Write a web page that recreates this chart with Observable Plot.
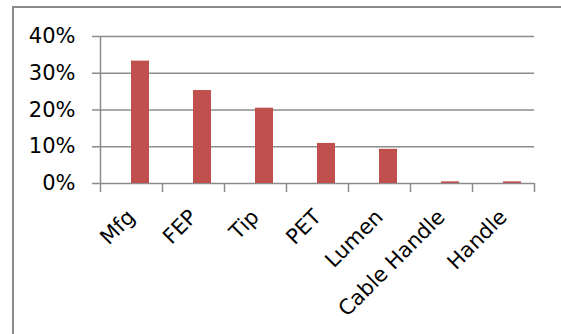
<!DOCTYPE html>
<html>
<head>
<meta charset="utf-8">
<script src="https://cdn.jsdelivr.net/npm/d3@7"></script>
<script src="https://cdn.jsdelivr.net/npm/@observablehq/plot@0.6"></script>
<style>
  html, body { margin: 0; padding: 0; background: #fff; overflow: hidden; }
  #chart { position: relative; width: 561px; height: 334px; }
  #frame { position: absolute; left: 12px; top: 6px; width: 600px; height: 400px;
           border: 2px solid #8c8c8c; box-sizing: border-box; }
  #chart svg { position: absolute; left: 0; top: 0; }
</style>
</head>
<body>
<div id="chart"><div id="frame"></div></div>
<script>
const categories = ["Mfg", "FEP", "Tip", "PET", "Lumen", "Cable Handle", "Handle"];
const shares = [0.333, 0.253, 0.205, 0.109, 0.093, 0.0045, 0.0045];
const yTicks = [0, 0.1, 0.2, 0.3, 0.4];

const rows = categories.map((category, i) => ({category, share: shares[i]}));

const width = 561, height = 334;
const marginLeft = 100, marginRight = 27, marginTop = 36, marginBottom = 151;
const step = (width - marginLeft - marginRight) / categories.length;
const barWidth = 18;
const gridColor = "#8c8c8c";
const pct = d3.format(".0%");

const chart = Plot.plot({
  width, height, marginLeft, marginRight, marginTop, marginBottom,
  style: {fontFamily: "DejaVu Sans", fontSize: "21px", color: "#000", background: "transparent"},
  x: {type: "band", domain: categories, padding: 0, axis: null},
  y: {domain: [0, 0.4], axis: null},
  marks: [
    // horizontal gridlines, extended left to form the y tick marks
    Plot.ruleY(yTicks, {y: d => d, stroke: gridColor, strokeWidth: 1.5, insetLeft: -8}),
    // vertical axis line at the left edge of the first category
    Plot.ruleX([categories[0]], {x: d => d, y1: 0, y2: 0.4, dx: -step / 2, stroke: gridColor, strokeWidth: 1.5}),
    // category boundary tick marks below the baseline
    Plot.ruleX(categories, {x: d => d, y1: 0, y2: 0, insetBottom: -9, dx: -step / 2, stroke: gridColor, strokeWidth: 1.5}),
    Plot.ruleX([categories[categories.length - 1]], {x: d => d, y1: 0, y2: 0, insetBottom: -9, dx: step / 2, stroke: gridColor, strokeWidth: 1.5}),
    // bars sit in the right half of each category slot
    Plot.barY(rows, {
      x: "category", y: "share", fill: "#C0504D",
      insetLeft: step / 2, insetRight: step / 2 - barWidth
    }),
    Plot.axisY(yTicks, {tickSize: 0, tickPadding: 25, tickFormat: pct, label: null}),
    // rotated category labels
    Plot.text(categories, {
      x: d => d, frameAnchor: "bottom", text: d => d,
      rotate: -45, textAnchor: "end", lineAnchor: "middle", dy: 30, fill: "#000"
    })
  ]
});

document.getElementById("chart").appendChild(chart);
</script>
</body>
</html>
